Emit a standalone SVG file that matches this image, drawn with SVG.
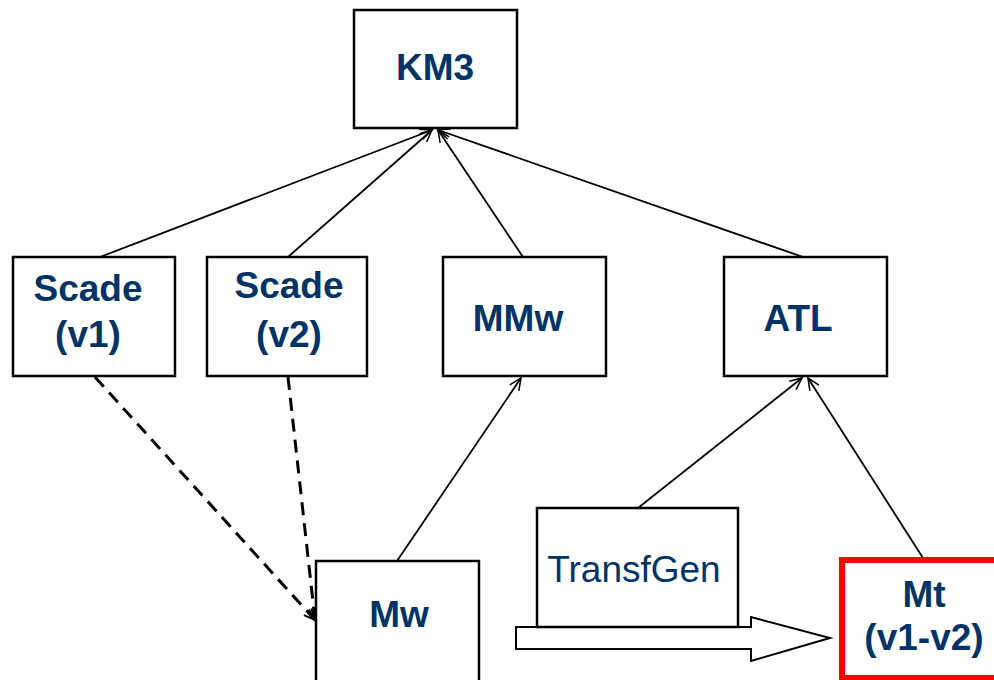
<svg xmlns="http://www.w3.org/2000/svg" width="994" height="680" viewBox="0 0 994 680">
<style>
.box{fill:#fff;stroke:#000;stroke-width:2.5}
.red{fill:#fff;stroke:#f00;stroke-width:6}
.t{font-family:"Liberation Sans",Arial,sans-serif;font-size:37px;fill:#003366;text-anchor:middle}
.b{font-weight:bold}
.ln{stroke:#000;stroke-width:1.8;fill:none;marker-end:url(#open)}
.dash{stroke:#000;stroke-width:3;fill:none;stroke-dasharray:13 8;marker-end:url(#openD)}
</style>
<defs>
<marker id="open" viewBox="0 0 12 12" refX="11" refY="6" markerWidth="15" markerHeight="13" markerUnits="userSpaceOnUse" orient="auto">
<path d="M0,1 L11,6 L0,11" fill="none" stroke="#000" stroke-width="1.4"/>
</marker>
<marker id="openD" viewBox="0 0 12 12" refX="11" refY="6" markerWidth="14" markerHeight="12" markerUnits="userSpaceOnUse" orient="auto">
<path d="M0,1 L11,6 L0,11" fill="none" stroke="#000" stroke-width="2"/>
</marker>
</defs>
<rect width="994" height="680" fill="#fff"/>
<g id="connectors">
<line class="ln" x1="100" y1="257" x2="432" y2="130"/>
<line class="ln" x1="288" y1="257" x2="432" y2="130"/>
<line class="ln" x1="523" y1="257" x2="438" y2="130"/>
<line class="ln" x1="803" y1="257" x2="438" y2="130"/>
<line class="ln" x1="397" y1="561" x2="521" y2="378"/>
<line class="ln" x1="638" y1="508" x2="802" y2="378"/>
<line class="ln" x1="923" y1="558" x2="808" y2="378"/>
<line class="dash" x1="95" y1="377" x2="315" y2="620"/>
<line class="dash" x1="288" y1="377" x2="315" y2="620"/>
<path d="M516,627 L751,627 L751,617 L830,638 L751,661 L751,649 L516,649 Z" fill="#fff" stroke="#000" stroke-width="2"/>
</g>
<g id="KM3"><rect class="box" x="354" y="10" width="163" height="118"/><text class="t b" x="435" y="80">KM3</text></g>
<g id="ScadeV1"><rect class="box" x="13" y="257" width="162" height="119"/><text class="t b" x="88" y="301">Scade</text><text class="t b" x="88" y="347">(v1)</text></g>
<g id="ScadeV2"><rect class="box" x="207" y="257" width="160" height="119"/><text class="t b" x="289" y="298">Scade</text><text class="t b" x="289" y="347">(v2)</text></g>
<g id="MMw"><rect class="box" x="443" y="257" width="163" height="119"/><text class="t b" x="518" y="331">MMw</text></g>
<g id="ATL"><rect class="box" x="724" y="257" width="163" height="119"/><text class="t b" x="798" y="331">ATL</text></g>
<g id="Mw"><rect class="box" x="316" y="561" width="163" height="130"/><text class="t b" x="399" y="627">Mw</text></g>
<g id="TransfGen"><rect class="box" x="537" y="508" width="201" height="119"/><text class="t" x="634" y="582">TransfGen</text></g>
<g id="Mt"><rect class="red" x="842" y="560" width="170" height="118"/><text class="t b" x="924" y="607">Mt</text><text class="t b" x="924" y="650">(v1-v2)</text></g>
</svg>
